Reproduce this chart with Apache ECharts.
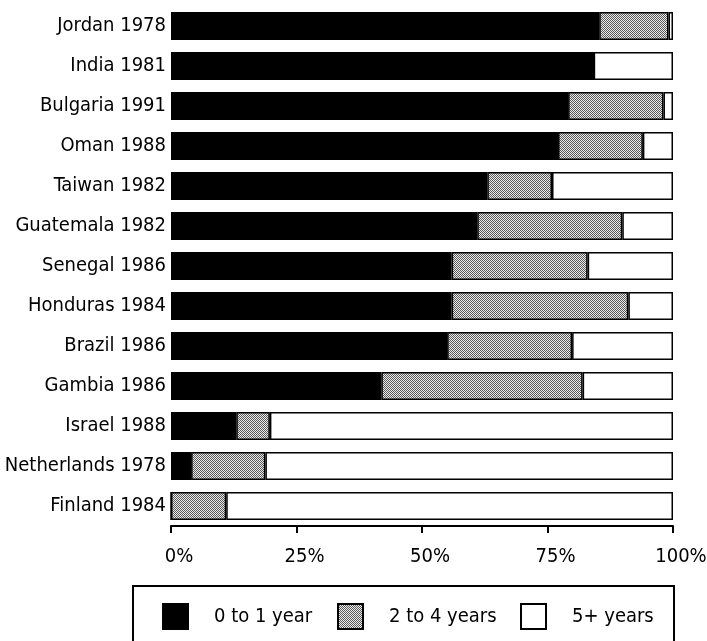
<!DOCTYPE html>
<html>
<head>
<meta charset="utf-8">
<script src="https://cdn.jsdelivr.net/npm/echarts@6/dist/echarts.min.js"></script>
<style>
html,body{margin:0;padding:0;background:#fff;}
#chart{width:707px;height:641px;}
</style>
</head>
<body>
<div id="chart"></div>
<script>
const categories = ['Jordan 1978','India 1981','Bulgaria 1991','Oman 1988','Taiwan 1982','Guatemala 1982','Senegal 1986','Honduras 1984','Brazil 1986','Gambia 1986','Israel 1988','Netherlands 1978','Finland 1984'];
const seriesNames = ['0 to 1 year','2 to 4 years','5+ years'];
const age0to1 = [85.3, 84.2, 79.1, 77.1, 63.0, 61.0, 55.9, 55.9, 55.0, 41.9, 13.0, 4.0, 0];
const age2to4 = [13.8, 0, 19.0, 16.9, 12.9, 28.9, 27.1, 35.2, 24.9, 40.1, 6.7, 14.8, 11.0];
const age5plus = [0.9, 15.8, 1.9, 6.0, 24.1, 10.1, 17.0, 8.9, 20.1, 18.0, 80.3, 81.2, 89.0];
const xTicks = [0, 25, 50, 75, 100];

const FONT = "'Liberation Sans Narrow','Arial Narrow','DejaVu Sans Condensed',sans-serif";
const FS = 20;

// dithered gray pattern
const pc = document.createElement('canvas');
pc.width = 2; pc.height = 2;
const px = pc.getContext('2d');
px.fillStyle = '#ebebeb'; px.fillRect(0,0,2,2);
px.fillStyle = '#5a5a5a'; px.fillRect(0,0,1,1); px.fillRect(1,1,1,1);
const grayPattern = { image: pc, repeat: 'repeat' };

const chart = echarts.init(document.getElementById('chart'), null, {renderer:'canvas'});
const fills = ['#000000', grayPattern, '#ffffff'];
const dataSets = [age0to1, age2to4, age5plus];
const legendLefts = [162, 337, 520];

chart.setOption({
  animation: false,
  backgroundColor: '#ffffff',
  grid: { left: 171, right: 34, top: 6, bottom: 115, containLabel: false, outerBoundsMode: 'none' },
  xAxis: {
    type: 'value', min: xTicks[0], max: xTicks[xTicks.length-1], interval: 25,
    axisLine: { show: true, lineStyle: { color: '#000', width: 2 } },
    axisTick: { show: true, length: 7, lineStyle: { color: '#000', width: 2 } },
    splitLine: { show: false },
    axisLabel: { formatter: '{value}%', color: '#000', fontSize: FS, fontFamily: FONT, margin: 21, padding: [0,0,0,16], showMaxLabel: true, hideOverlap: false }
  },
  yAxis: {
    type: 'category', data: categories, inverse: true,
    axisLine: { show: false }, axisTick: { show: false },
    axisLabel: { color: '#000', fontSize: FS, fontFamily: FONT, margin: 5 }
  },
  legend: seriesNames.map((name, i) => ({
    left: legendLefts[i], top: 603, orient: 'horizontal', padding: 0,
    itemWidth: 25, itemHeight: 25,
    icon: 'rect', selectedMode: false,
    data: [name],
    textStyle: { color: '#000', fontSize: FS, fontFamily: FONT, padding: [0,0,0,21] }
  })),
  graphic: [{
    type: 'rect', silent: true,
    shape: { x: 133, y: 586, width: 541, height: 80 },
    style: { fill: 'none', stroke: '#000', lineWidth: 2 }
  }],
  series: seriesNames.map((name, i) => ({
    name: name, type: 'bar', stack: 'total', barWidth: 28,
    data: dataSets[i],
    itemStyle: { color: fills[i], borderColor: '#000', borderWidth: 1.5 },
    emphasis: { disabled: true }
  }))
});
</script>
</body>
</html>
